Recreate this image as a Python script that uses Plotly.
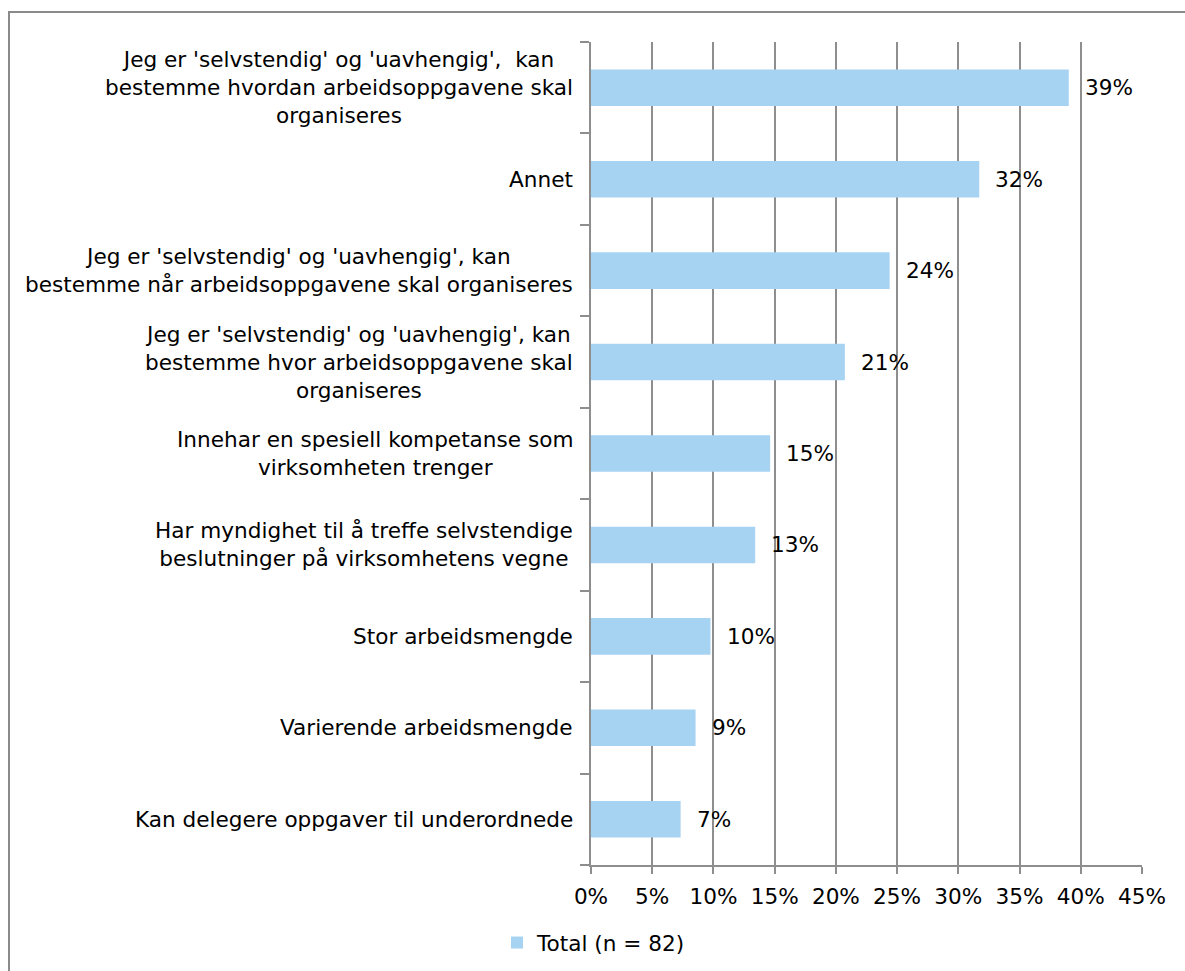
import plotly.graph_objects as go

# Share of respondents per reason (percent), n = 82
categories = [
    "Jeg er 'selvstendig' og 'uavhengig',  kan<br>bestemme hvordan arbeidsoppgavene skal<br>organiseres",
    "Annet",
    "Jeg er 'selvstendig' og 'uavhengig', kan<br>bestemme når arbeidsoppgavene skal organiseres",
    "Jeg er 'selvstendig' og 'uavhengig', kan<br>bestemme hvor arbeidsoppgavene skal<br>organiseres",
    "Innehar en spesiell kompetanse som<br>virksomheten trenger",
    "Har myndighet til å treffe selvstendige<br>beslutninger på virksomhetens vegne",
    "Stor arbeidsmengde",
    "Varierende arbeidsmengde",
    "Kan delegere oppgaver til underordnede",
]
values = [39.02, 31.71, 24.39, 20.73, 14.63, 13.41, 9.76, 8.54, 7.32]
series_name = "Total (n = 82)"
x_ticks = [0, 5, 10, 15, 20, 25, 30, 35, 40, 45]
x_tick_labels = ["0%", "5%", "10%", "15%", "20%", "25%", "30%", "35%", "40%", "45%"]

FONT = "DejaVu Sans, Verdana, sans-serif"
FS = 21.6
BAR = "#A7D3F3"
GRID = "#8E8E8E"

W, H = 1185, 971
L, R, T, B = 591, 43, 42, 106
pw, ph = W - L - R, H - T - B

fig = go.Figure()
fig.add_trace(go.Bar(
    x=values,
    y=list(range(len(categories))),
    orientation="h",
    name=series_name,
    marker=dict(color=BAR, line=dict(width=0)),
    width=0.4,
    hoverinfo="skip",
    showlegend=True,
))

annotations = []
# category labels, centred block, right edge just left of the axis
for i, c in enumerate(categories):
    annotations.append(dict(
        x=0, xref="paper", y=i, yref="y",
        text=c, showarrow=False, xanchor="right", yanchor="middle",
        align="center", xshift=-16,
        font=dict(family=FONT, size=FS, color="#000000"),
    ))
# value labels just past the end of each bar
for i, v in enumerate(values):
    annotations.append(dict(
        x=v, xref="x", y=i, yref="y",
        text=f"{round(v)}%", showarrow=False, xanchor="left", yanchor="middle",
        xshift=14,
        font=dict(family=FONT, size=FS, color="#000000"),
    ))

# outer frame around the chart
shapes = [dict(
    type="rect", xref="paper", yref="paper",
    x0=(9 - L) / pw, x1=(W + 20 - L) / pw,
    y0=-(H + 20 - (H - B)) / ph, y1=(H - B - 12) / ph,
    line=dict(color="#8A8A8A", width=2), fillcolor="rgba(0,0,0,0)",
    layer="below",
)]

fig.update_layout(
    width=W, height=H,
    margin=dict(l=L, r=R, t=T, b=B, pad=0),
    paper_bgcolor="white", plot_bgcolor="white",
    font=dict(family=FONT, size=FS, color="#000000"),
    annotations=annotations,
    shapes=shapes,
    showlegend=True,
    legend=dict(
        orientation="h", xref="container", yref="container",
        x=497 / W, y=1 - 943 / H, xanchor="left", yanchor="middle",
        font=dict(family=FONT, size=FS, color="#000000"),
        itemwidth=30, bgcolor="rgba(0,0,0,0)",
    ),
    xaxis=dict(
        range=[0, 45], tickvals=x_ticks, ticktext=x_tick_labels,
        showgrid=True, gridcolor=GRID, gridwidth=2,
        showline=True, linecolor=GRID, linewidth=2,
        ticks="outside", ticklen=7, tickwidth=2, tickcolor=GRID,
        zeroline=False, fixedrange=True,
        tickfont=dict(family=FONT, size=FS, color="#000000"),
        ticklabelstandoff=4,
    ),
    yaxis=dict(
        type="linear", range=[len(categories) - 0.5, -0.5],
        tickvals=[i - 0.5 for i in range(len(categories) + 1)],
        showticklabels=False, showgrid=False, zeroline=False,
        showline=True, linecolor=GRID, linewidth=2,
        ticks="outside", ticklen=9, tickwidth=2, tickcolor=GRID,
        fixedrange=True,
    ),
)

fig.write_html("out.html")
